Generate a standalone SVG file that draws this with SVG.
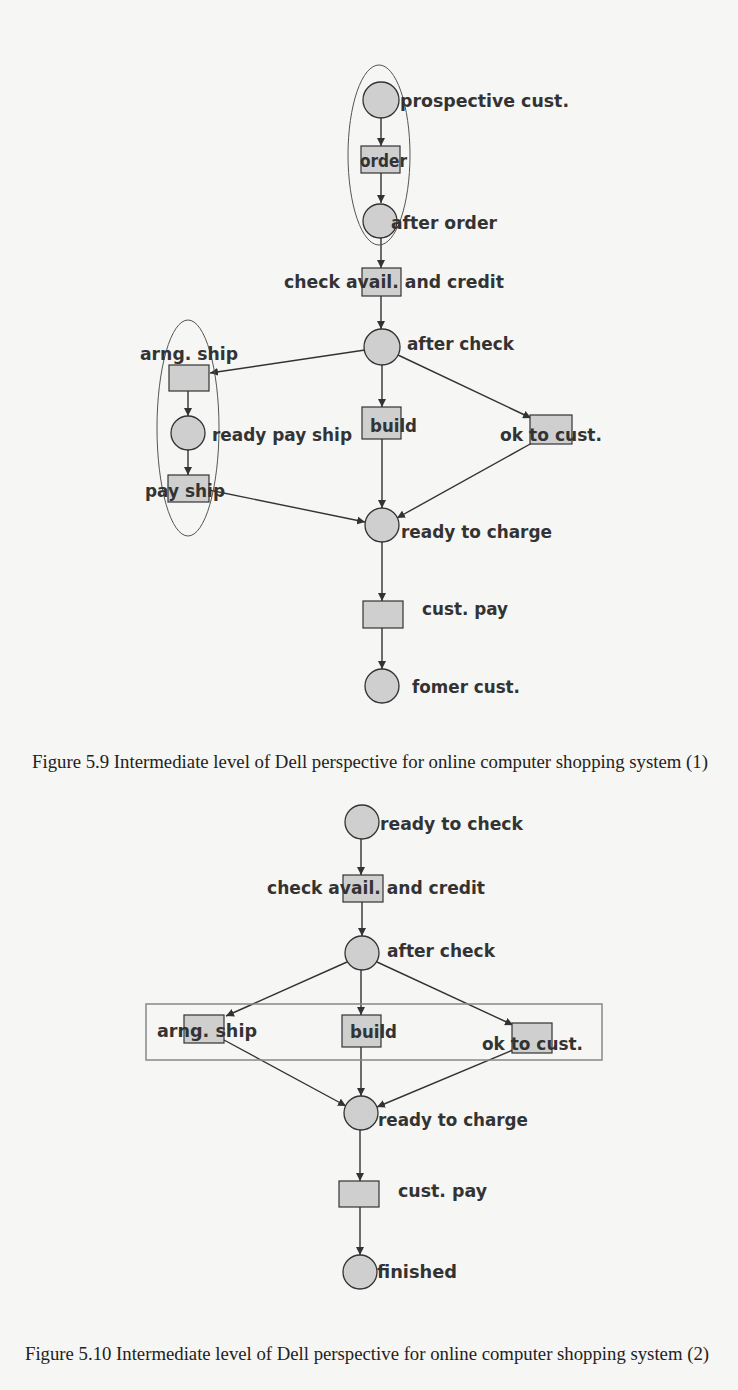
<svg xmlns="http://www.w3.org/2000/svg" width="738" height="1390" viewBox="0 0 738 1390">
<style>
.bg{fill:#f6f6f4}
.p{fill:#cfcfcf;stroke:#333;stroke-width:1.3}
.t{fill:#cfcfcf;stroke:#333;stroke-width:1.2}
.lb{font-family:"DejaVu Sans","Liberation Sans",sans-serif;font-weight:bold;font-size:18px;fill:#333}
.cap{font-family:"Liberation Serif","Times New Roman",serif;font-size:18px;fill:#222}
.a{stroke:#333;stroke-width:1.4;fill:none;marker-end:url(#ah)}
.el{fill:none;stroke:#555;stroke-width:1}
.box{fill:none;stroke:#888;stroke-width:1.5}
</style>
<defs>
<marker id="ah" viewBox="0 0 10 10" refX="10" refY="5" markerWidth="8" markerHeight="8" orient="auto" markerUnits="userSpaceOnUse"><path d="M0,0 L10,5 L0,10 z" fill="#333"/></marker>
</defs>
<rect class="bg" x="0" y="0" width="738" height="1390"/>

<g id="connectors1">
<line class="a" x1="381" y1="118" x2="381" y2="146"/>
<line class="a" x1="381" y1="173" x2="381" y2="203"/>
<line class="a" x1="381" y1="238" x2="381" y2="268"/>
<line class="a" x1="381" y1="296" x2="381" y2="329"/>
<line class="a" x1="365" y1="350" x2="210" y2="373"/>
<line class="a" x1="382" y1="365" x2="382" y2="407"/>
<line class="a" x1="398" y1="355" x2="531" y2="418"/>
<line class="a" x1="382" y1="439" x2="382" y2="508"/>
<line class="a" x1="532" y1="443" x2="397" y2="518"/>
<line class="a" x1="209" y1="490" x2="365" y2="522"/>
<line class="a" x1="188" y1="391" x2="188" y2="416"/>
<line class="a" x1="188" y1="450" x2="188" y2="475"/>
<line class="a" x1="382" y1="542" x2="382" y2="601"/>
<line class="a" x1="382" y1="628" x2="382" y2="669"/>
</g>

<g id="group-order"><ellipse class="el" cx="379" cy="155" rx="31" ry="90"/></g>
<g id="group-ship"><ellipse class="el" cx="188" cy="428" rx="31" ry="108"/></g>

<g id="prospective-cust"><circle class="p" cx="381" cy="100" r="18"/><text class="lb" x="400" y="107" textLength="169" lengthAdjust="spacingAndGlyphs">prospective cust.</text></g>
<g id="order"><rect class="t" x="361" y="146" width="39" height="27"/><text class="lb" x="360" y="167" textLength="47" lengthAdjust="spacingAndGlyphs">order</text></g>
<g id="after-order"><circle class="p" cx="380" cy="221" r="17"/><text class="lb" x="391" y="229" textLength="106" lengthAdjust="spacingAndGlyphs">after order</text></g>
<g id="check-avail"><rect class="t" x="362" y="268" width="39" height="28"/><text class="lb" x="284" y="288" textLength="220" lengthAdjust="spacingAndGlyphs">check avail. and credit</text></g>
<g id="after-check"><circle class="p" cx="382" cy="347" r="18"/><text class="lb" x="407" y="350" textLength="107" lengthAdjust="spacingAndGlyphs">after check</text></g>
<g id="arng-ship"><rect class="t" x="169" y="365" width="40" height="26"/><text class="lb" x="140" y="360" textLength="98" lengthAdjust="spacingAndGlyphs">arng. ship</text></g>
<g id="ready-pay-ship"><circle class="p" cx="188" cy="433" r="17"/><text class="lb" x="212" y="441" textLength="140" lengthAdjust="spacingAndGlyphs">ready pay ship</text></g>
<g id="pay-ship"><rect class="t" x="168" y="475" width="41" height="27"/><text class="lb" x="145" y="497" textLength="80" lengthAdjust="spacingAndGlyphs">pay ship</text></g>
<g id="build"><rect class="t" x="362" y="407" width="39" height="32"/><text class="lb" x="370" y="432" textLength="47" lengthAdjust="spacingAndGlyphs">build</text></g>
<g id="ok-to-cust"><rect class="t" x="530" y="415" width="42" height="29"/><text class="lb" x="500" y="441" textLength="102" lengthAdjust="spacingAndGlyphs">ok to cust.</text></g>
<g id="ready-to-charge"><circle class="p" cx="382" cy="525" r="17"/><text class="lb" x="401" y="538" textLength="151" lengthAdjust="spacingAndGlyphs">ready to charge</text></g>
<g id="cust-pay"><rect class="t" x="363" y="601" width="40" height="27"/><text class="lb" x="422" y="615" textLength="86" lengthAdjust="spacingAndGlyphs">cust. pay</text></g>
<g id="former-cust"><circle class="p" cx="382" cy="686" r="17"/><text class="lb" x="412" y="693" textLength="108" lengthAdjust="spacingAndGlyphs">fomer cust.</text></g>

<text class="cap" x="32" y="768" textLength="676" lengthAdjust="spacingAndGlyphs">Figure 5.9 Intermediate level of Dell perspective for online computer shopping system (1)</text>

<g id="connectors2">
<line class="a" x1="361" y1="839" x2="361" y2="875"/>
<line class="a" x1="362" y1="902" x2="362" y2="936"/>
<line class="a" x1="347" y1="962" x2="226" y2="1016"/>
<line class="a" x1="361" y1="970" x2="361" y2="1015"/>
<line class="a" x1="377" y1="962" x2="513" y2="1025"/>
<line class="a" x1="224" y1="1040" x2="346" y2="1106"/>
<line class="a" x1="361" y1="1047" x2="361" y2="1096"/>
<line class="a" x1="513" y1="1050" x2="377" y2="1107"/>
<line class="a" x1="360" y1="1130" x2="360" y2="1181"/>
<line class="a" x1="360" y1="1207" x2="360" y2="1255"/>
</g>

<g id="group-box"><rect class="box" x="146" y="1004" width="456" height="56"/></g>

<g id="ready-to-check"><circle class="p" cx="362" cy="822" r="17"/><text class="lb" x="380" y="830" textLength="143" lengthAdjust="spacingAndGlyphs">ready to check</text></g>
<g id="check-avail-2"><rect class="t" x="343" y="875" width="40" height="27"/><text class="lb" x="267" y="894" textLength="218" lengthAdjust="spacingAndGlyphs">check avail. and credit</text></g>
<g id="after-check-2"><circle class="p" cx="362" cy="953" r="17"/><text class="lb" x="387" y="957" textLength="108" lengthAdjust="spacingAndGlyphs">after check</text></g>
<g id="arng-ship-2"><rect class="t" x="184" y="1015" width="40" height="28"/><text class="lb" x="157" y="1037" textLength="100" lengthAdjust="spacingAndGlyphs">arng. ship</text></g>
<g id="build-2"><rect class="t" x="342" y="1015" width="39" height="32"/><text class="lb" x="350" y="1038" textLength="47" lengthAdjust="spacingAndGlyphs">build</text></g>
<g id="ok-to-cust-2"><rect class="t" x="512" y="1023" width="40" height="30"/><text class="lb" x="482" y="1050" textLength="101" lengthAdjust="spacingAndGlyphs">ok to cust.</text></g>
<g id="ready-to-charge-2"><circle class="p" cx="361" cy="1113" r="17"/><text class="lb" x="378" y="1126" textLength="150" lengthAdjust="spacingAndGlyphs">ready to charge</text></g>
<g id="cust-pay-2"><rect class="t" x="339" y="1181" width="40" height="26"/><text class="lb" x="398" y="1197" textLength="89" lengthAdjust="spacingAndGlyphs">cust. pay</text></g>
<g id="finished"><circle class="p" cx="360" cy="1272" r="17"/><text class="lb" x="377" y="1278" textLength="80" lengthAdjust="spacingAndGlyphs">finished</text></g>

<text class="cap" x="25" y="1360" textLength="684" lengthAdjust="spacingAndGlyphs">Figure 5.10 Intermediate level of Dell perspective for online computer shopping system (2)</text>
</svg>
